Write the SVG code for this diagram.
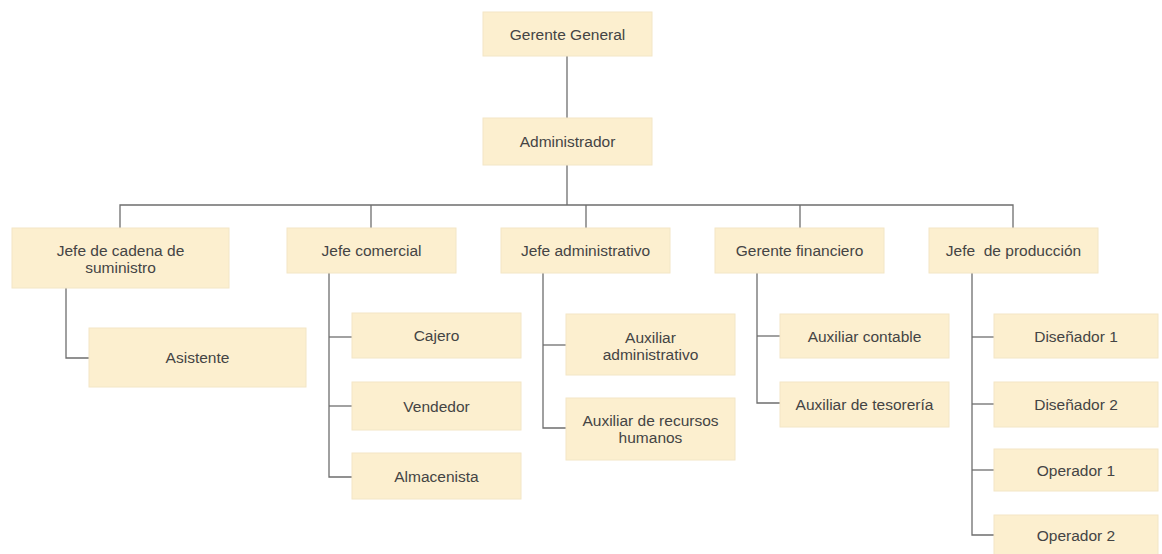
<svg xmlns="http://www.w3.org/2000/svg" width="1162" height="554" viewBox="0 0 1162 554">
  <style>
    .box { fill: #fcefcf; stroke: #f3e6c6; stroke-width: 1; }
    .lbl { font-family: "Liberation Sans", Arial, sans-serif; font-size: 15.5px; fill: #444444; text-anchor: middle; dominant-baseline: central; }
    .wire { fill: none; stroke: #6e6e6e; stroke-width: 1.3; }
  </style>
  <rect width="1162" height="554" fill="#ffffff"/>

  <!-- connectors -->
  <g id="connectors" class="wire">
    <path d="M567 56 V118"/>
    <path d="M567 165 V205"/>
    <path d="M120 228 V205 H1013 V228"/>
    <path d="M371 205 V228"/>
    <path d="M586 205 V228"/>
    <path d="M800 205 V228"/>
    <!-- supply chain -->
    <path d="M66 288 V358 H89"/>
    <!-- commercial -->
    <path d="M329 273 V477 H352"/>
    <path d="M329 337 H352"/>
    <path d="M329 406 H352"/>
    <!-- administrative -->
    <path d="M543 273 V428 H566"/>
    <path d="M543 345 H566"/>
    <!-- finance -->
    <path d="M757 273 V403 H780"/>
    <path d="M757 336 H780"/>
    <!-- production -->
    <path d="M972 273 V535 H994"/>
    <path d="M972 337 H994"/>
    <path d="M972 404 H994"/>
    <path d="M972 470 H994"/>
  </g>

  <g id="gerente-general"><rect class="box" x="483" y="12" width="169" height="44"/><text class="lbl" x="567.5" y="34">Gerente General</text></g>
  <g id="administrador"><rect class="box" x="483" y="118" width="169" height="47"/><text class="lbl" x="567.5" y="141.5">Administrador</text></g>

  <g id="jefe-cadena"><rect class="box" x="12" y="228" width="217" height="60"/><text class="lbl" x="120.5" y="250">Jefe de cadena de</text><text class="lbl" x="120.5" y="267">suministro</text></g>
  <g id="asistente"><rect class="box" x="89" y="328" width="217" height="59"/><text class="lbl" x="197.5" y="357.5">Asistente</text></g>

  <g id="jefe-comercial"><rect class="box" x="287" y="228" width="169" height="45"/><text class="lbl" x="371.5" y="250.5">Jefe comercial</text></g>
  <g id="cajero"><rect class="box" x="352" y="313" width="169" height="45"/><text class="lbl" x="436.5" y="335.5">Cajero</text></g>
  <g id="vendedor"><rect class="box" x="352" y="382" width="169" height="48"/><text class="lbl" x="436.5" y="406">Vendedor</text></g>
  <g id="almacenista"><rect class="box" x="352" y="453" width="169" height="46"/><text class="lbl" x="436.5" y="476">Almacenista</text></g>

  <g id="jefe-administrativo"><rect class="box" x="501" y="228" width="169" height="45"/><text class="lbl" x="585.5" y="250.5">Jefe administrativo</text></g>
  <g id="auxiliar-administrativo"><rect class="box" x="566" y="314" width="169" height="61"/><text class="lbl" x="650.5" y="337">Auxiliar</text><text class="lbl" x="650.5" y="354">administrativo</text></g>
  <g id="auxiliar-rrhh"><rect class="box" x="566" y="398" width="169" height="62"/><text class="lbl" x="650.5" y="420">Auxiliar de recursos</text><text class="lbl" x="650.5" y="437">humanos</text></g>

  <g id="gerente-financiero"><rect class="box" x="715" y="228" width="169" height="45"/><text class="lbl" x="799.5" y="250.5">Gerente financiero</text></g>
  <g id="auxiliar-contable"><rect class="box" x="780" y="314" width="169" height="44"/><text class="lbl" x="864.5" y="336">Auxiliar contable</text></g>
  <g id="auxiliar-tesoreria"><rect class="box" x="780" y="382" width="169" height="45"/><text class="lbl" x="864.5" y="404.5">Auxiliar de tesorería</text></g>

  <g id="jefe-produccion"><rect class="box" x="929" y="228" width="169" height="45"/><text class="lbl" x="1013.5" y="250.5" xml:space="preserve">Jefe  de producción</text></g>
  <g id="disenador-1"><rect class="box" x="994" y="314" width="164" height="44"/><text class="lbl" x="1076" y="336">Diseñador 1</text></g>
  <g id="disenador-2"><rect class="box" x="994" y="382" width="164" height="45"/><text class="lbl" x="1076" y="404.5">Diseñador 2</text></g>
  <g id="operador-1"><rect class="box" x="994" y="449" width="164" height="42"/><text class="lbl" x="1076" y="470">Operador 1</text></g>
  <g id="operador-2"><rect class="box" x="994" y="515" width="164" height="45"/><text class="lbl" x="1076" y="535">Operador 2</text></g>
</svg>
